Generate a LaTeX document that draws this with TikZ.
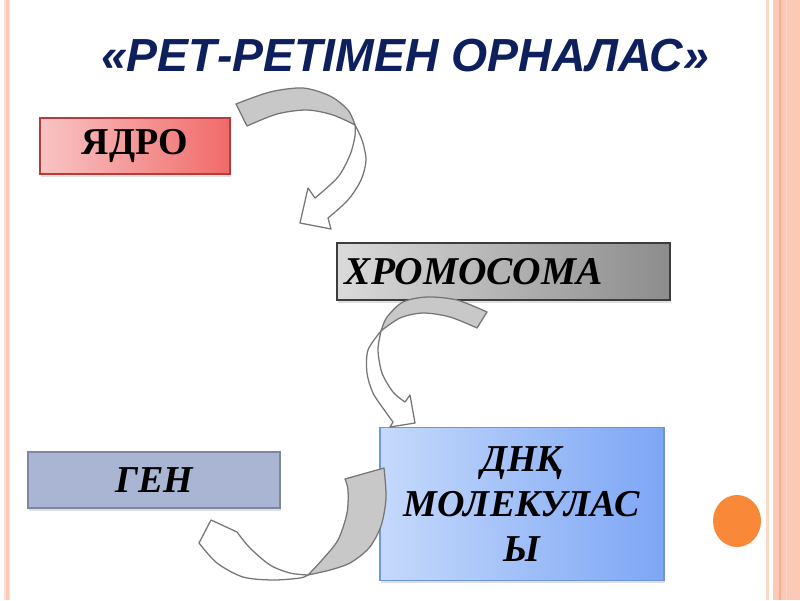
\documentclass[tikz,border=0pt]{standalone}
\usepackage{fontspec}
\setmainfont{Liberation Serif}
\newfontfamily\titlefont{Liberation Sans}
\usetikzlibrary{shadows}

\definecolor{titleblue}{RGB}{13,31,92}
\definecolor{arrowgray}{RGB}{200,200,200}
\definecolor{edgegray}{RGB}{118,118,118}
\definecolor{framepink}{RGB}{252,201,181}
\definecolor{framedark}{RGB}{246,172,145}
\definecolor{dotorange}{RGB}{249,136,56}

\begin{document}
\begin{tikzpicture}[x=0.025cm, y=-0.025cm,
    hop/.style={draw=edgegray, line width=0.9pt, line join=round},
    box/.style={draw, line width=0.8pt, inner sep=0pt,
      drop shadow={shadow xshift=1pt, shadow yshift=-2pt, opacity=0.25},
      font=\fontsize{27}{31}\selectfont\bfseries\itshape}]
    \useasboundingbox (0,0) rectangle (800,600);
    \fill[white] (0,0) rectangle (800,600);

    % Khung trang
    \fill[framepink!60] (4,0) rectangle (10,600);
    \fill[framepink] (5.5,0) rectangle (8.5,600);
    \fill[framepink!70] (766,0) rectangle (769,600);
    \fill[framepink] (773,0) rectangle (800,600);
    \fill[framedark] (779,0) rectangle (781,600);
    \fill[framedark!50] (786,0) rectangle (787,600);
    \fill[dotorange] (737,521) ellipse (24 and 26);

    % Tieu de
    \node[titleblue, font=\titlefont\bfseries\itshape\fontsize{33}{38}\selectfont] (title) at (405,56) {«РЕТ-РЕТІМЕН ОРНАЛАС»};

    % Cac hop
    \node[box, draw={rgb,255:red,180;green,60;blue,58}, left color={rgb,255:red,249;green,196;blue,196},
      right color={rgb,255:red,241;green,106;blue,106}, minimum width=4.75cm, minimum height=1.4cm,
      font=\fontsize{27}{31}\selectfont\bfseries] (yadro) at (135,146) {ЯДРО};
    \node[box, draw={rgb,255:red,60;green,60;blue,60}, left color={rgb,255:red,218;green,218;blue,218},
      right color={rgb,255:red,140;green,140;blue,140}, text width=7.925cm, inner xsep=0.2cm,
      align=left, minimum height=1.425cm, font=\fontsize{28}{32}\selectfont\bfseries\itshape] (chromo) at (503.5,271.5) {ХРОМОСОМА};
    \node[box, draw={rgb,255:red,125;green,135;blue,160}, fill={rgb,255:red,170;green,181;blue,211},
      minimum width=6.3cm, minimum height=1.4cm] (gen) at (154,480) {ГЕН};
    \node[box, draw={rgb,255:red,110;green,150;blue,220}, left color={rgb,255:red,197;green,217;blue,251},
      right color={rgb,255:red,125;green,166;blue,245}, minimum width=7.1cm, minimum height=3.825cm,
      align=center, font=\fontsize{27}{32}\selectfont\bfseries\itshape] (dnk) at (522,504) {ДНҚ\\МОЛЕКУЛАС\\Ы};

    % Mui ten 1
    \filldraw[hop, fill=white] plot[smooth] coordinates {(355,125) (362,140) (366,160) (361,180) (348,200) (328,218)}
      -- (331,229) -- (300,223) -- (308,188) -- (315,198)
      -- plot[smooth] coordinates {(315,198) (338,177) (350,155) (355,136) (355,125)} -- cycle;
    \filldraw[hop, fill=arrowgray] (236,104)
      -- plot[smooth] coordinates {(247,126) (277,114) (307,110) (333,115) (355,125)}
      -- plot[smooth] coordinates {(355,125) (348,110) (330,96) (303,88) (270,92) (236,104)} -- cycle;

    % Mui ten 2
    \filldraw[hop, fill=white] plot[smooth] coordinates {(381,331) (368,350) (367,373) (373,393) (385,411) (393,422)}
      -- (390,427) -- (415,423) -- (410,395) -- (405,402)
      -- plot[smooth] coordinates {(405,402) (393,392) (382,373) (378,350) (381,331)} -- cycle;
    \filldraw[hop, fill=arrowgray] (487,312)
      -- plot[smooth] coordinates {(477,328) (450,317) (423,313) (400,318) (381,331)}
      -- plot[smooth] coordinates {(381,331) (387,317) (403,302) (427,297) (457,300) (487,312)} -- cycle;

    % Mui ten 3
    \filldraw[hop, fill=white] plot[smooth] coordinates {(308,575) (290,573) (270,565) (250,548) (237,532)}
      -- (211,520) -- (199,543)
      -- plot[smooth] coordinates {(199,543) (217,563) (243,577) (273,580) (300,578) (308,575)} -- cycle;
    \filldraw[hop, fill=arrowgray] (345,479) -- (384,468)
      -- plot[smooth] coordinates {(384,468) (386,498) (381,526) (369,548) (350,563) (330,570) (308,575)}
      -- plot[smooth] coordinates {(308,575) (322,560) (338,540) (347,513) (348,490) (345,479)} -- cycle;
\end{tikzpicture}
\end{document}
